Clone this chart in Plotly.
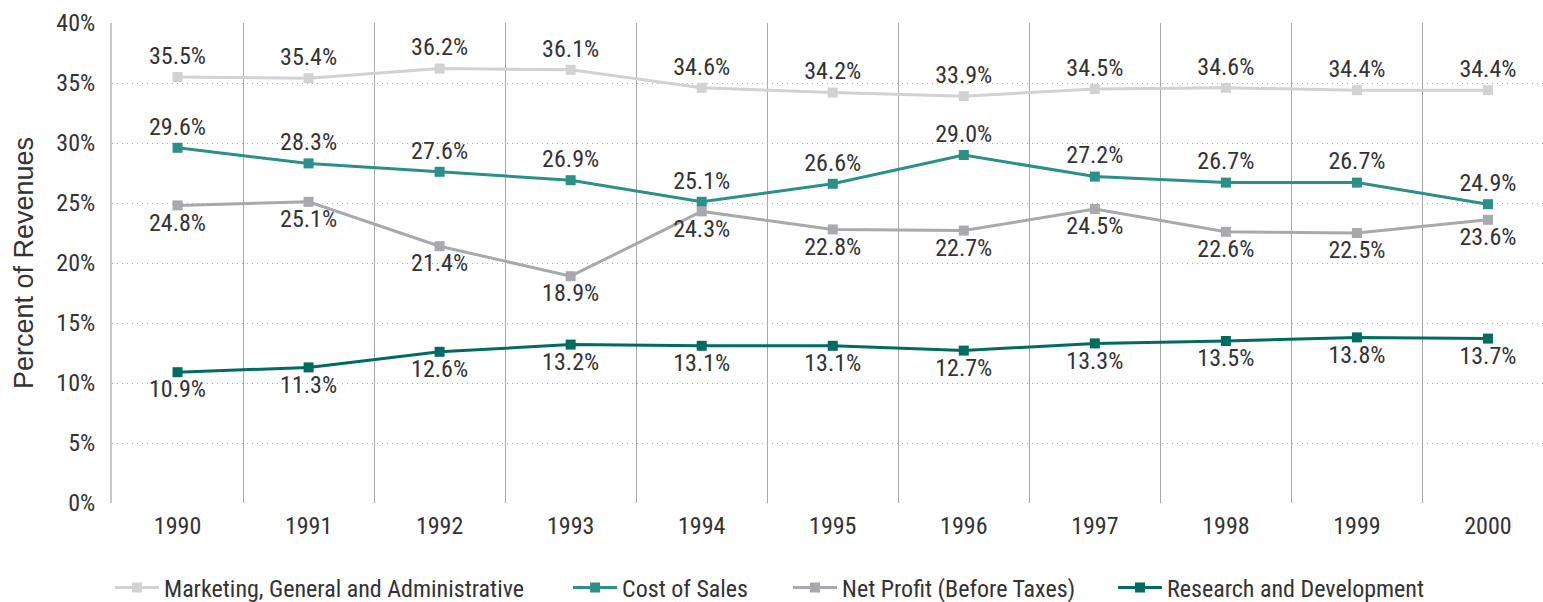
import plotly.graph_objects as go

years = ["1990", "1991", "1992", "1993", "1994", "1995", "1996", "1997", "1998", "1999", "2000"]
mga = [35.5, 35.4, 36.2, 36.1, 34.6, 34.2, 33.9, 34.5, 34.6, 34.4, 34.4]
cos = [29.6, 28.3, 27.6, 26.9, 25.1, 26.6, 29.0, 27.2, 26.7, 26.7, 24.9]
npbt = [24.8, 25.1, 21.4, 18.9, 24.3, 22.8, 22.7, 24.5, 22.6, 22.5, 23.6]
rnd = [10.9, 11.3, 12.6, 13.2, 13.1, 13.1, 12.7, 13.3, 13.5, 13.8, 13.7]
ytick_vals = [0, 5, 10, 15, 20, 25, 30, 35, 40]

FONT = "Liberation Sans Narrow, Arial Narrow, Roboto Condensed, sans-serif"
xs = list(range(len(years)))

series = [
    ("Marketing, General and Administrative", mga, "#d1d2d4", "top center", "legend", -0.0014),
    ("Cost of Sales", cos, "#2a9088", "top center", "legend2", 0.3187),
    ("Net Profit (Before Taxes)", npbt, "#a8a9ac", "bottom center", "legend3", 0.4724),
    ("Research and Development", rnd, "#006b5f", "bottom center", "legend4", 0.6995),
]

fig = go.Figure()
legends = {}
for name, vals, color, pos, lg, lx in series:
    fig.add_trace(go.Scatter(
        x=xs, y=vals, name=name, mode="lines+markers+text",
        line=dict(color=color, width=3),
        marker=dict(symbol="square", size=10, color=color),
        text=[f"{v:.1f}%" for v in vals], textposition=pos,
        textfont=dict(size=24, color="#333333", family=FONT),
        cliponaxis=False, legend=lg,
    ))
    legends[lg] = dict(orientation="h", x=lx, xanchor="left", y=-0.177, yanchor="middle",
                       font=dict(size=24, family=FONT, color="#333333"),
                       itemwidth=44, bgcolor="rgba(0,0,0,0)")

fig.update_layout(
    width=1543, height=602,
    margin=dict(l=112, r=0, t=23, b=99, autoexpand=False),
    plot_bgcolor="white", paper_bgcolor="white",
    font=dict(family=FONT, size=24, color="#333333"),
    showlegend=True,
    xaxis=dict(
        range=[-0.5, 10.42], tickvals=xs, ticktext=years,
        showgrid=False, zeroline=False, showline=False, automargin=False,
        ticks="", tickfont=dict(size=24), ticklabelstandoff=6,
        minor=dict(tick0=0.5, dtick=1, showgrid=True, gridcolor="#a8a8a8", gridwidth=1),
    ),
    yaxis=dict(
        range=[0, 40], tickvals=ytick_vals, ticktext=[f"{v}%" for v in ytick_vals],
        showgrid=True, gridcolor="#b0b0b0", griddash="1px,4px", gridwidth=1,
        zeroline=False, showline=True, linecolor="#c8c8c8", linewidth=2,
        automargin=False,
        title=dict(text="Percent of Revenues",
                   font=dict(size=27, family="Liberation Sans, Arial, sans-serif", color="#333333")),
        tickfont=dict(size=24), ticks="", ticklabelstandoff=10,
    ),
    **legends,
)

fig.write_html("out.html", post_script="document.body.style.margin='0';",
               config={"displayModeBar": False})
